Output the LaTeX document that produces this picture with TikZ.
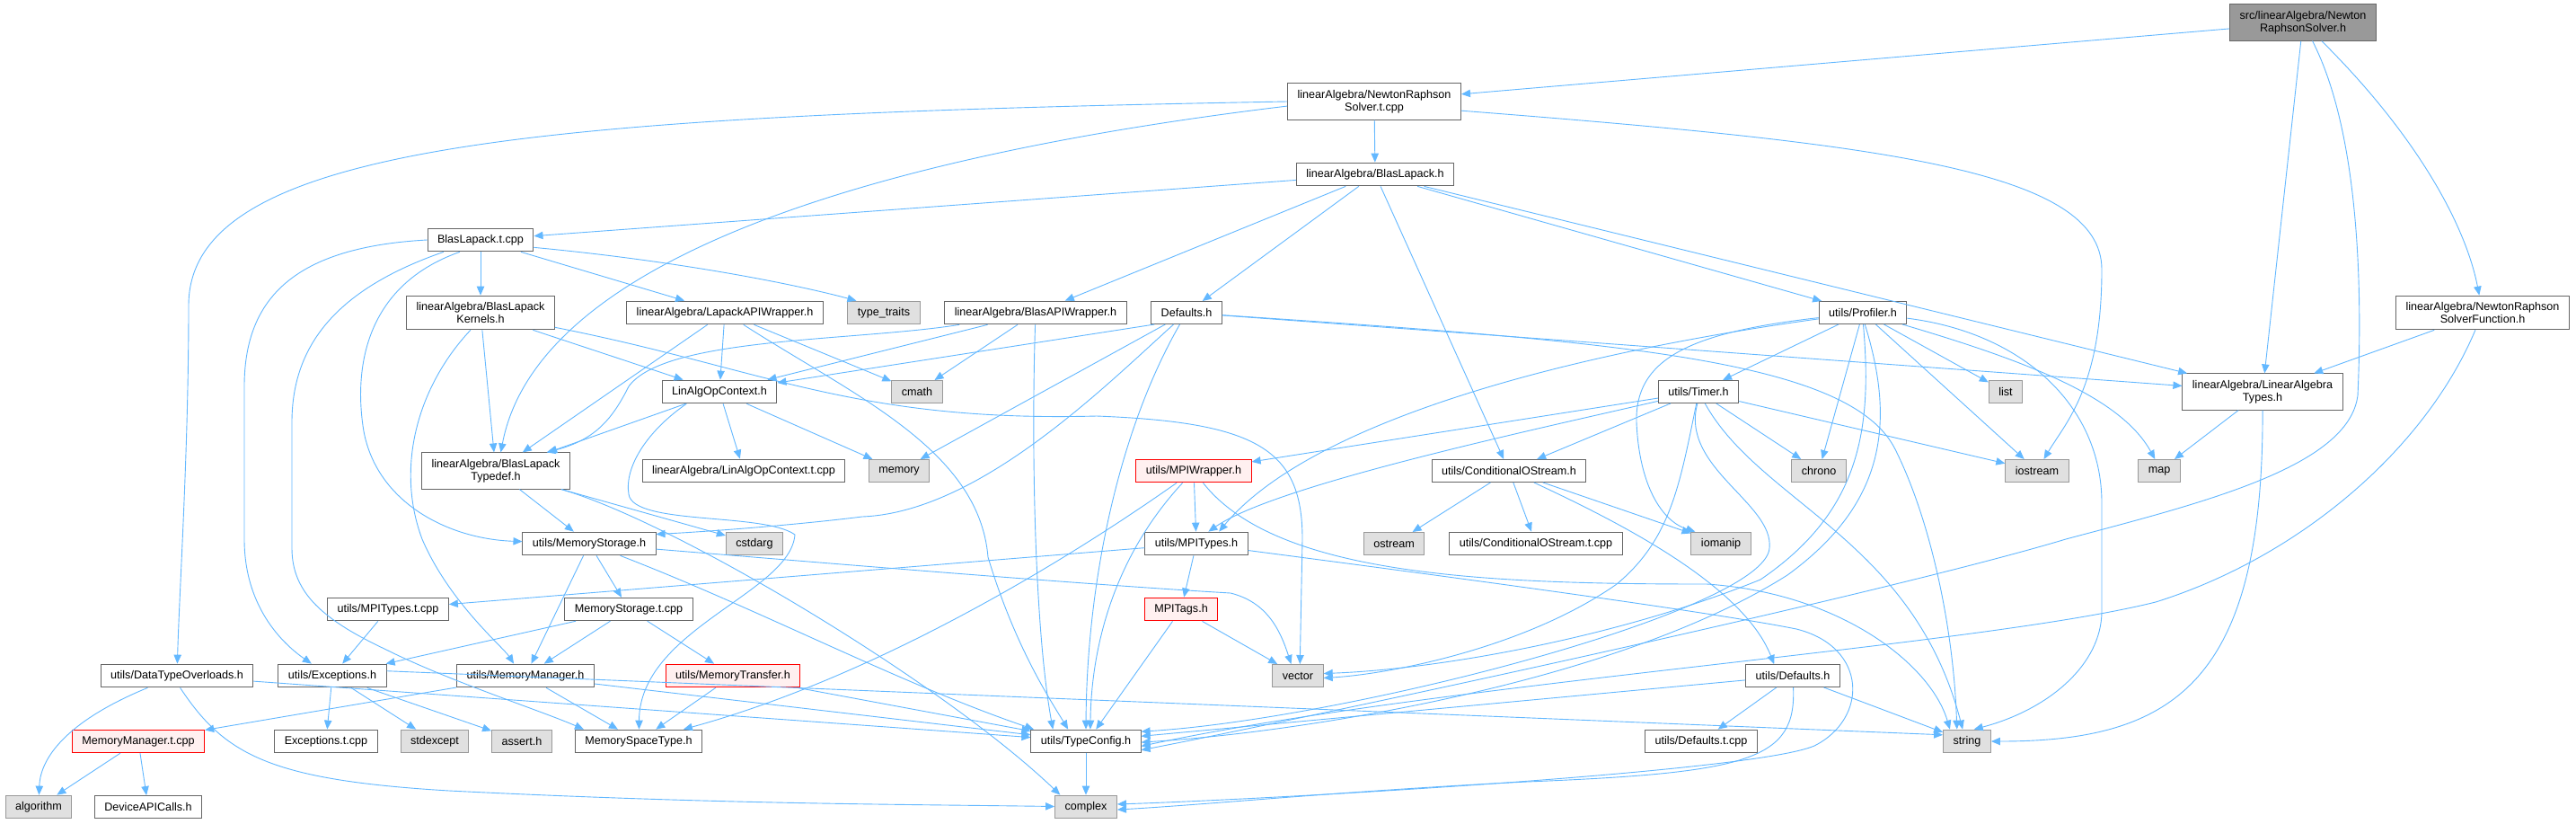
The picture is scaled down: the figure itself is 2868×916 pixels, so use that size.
\documentclass[tikz,border=0pt]{standalone}
\usepackage{fontspec}
\setmainfont{Liberation Sans}
\usepackage{tikz}
\usetikzlibrary{arrows.meta}
\definecolor{dxEdge}{HTML}{63B8FF}
\definecolor{dxBorder}{HTML}{666666}
\definecolor{dxSys}{HTML}{E0E0E0}
\definecolor{dxSysBorder}{HTML}{999999}
\definecolor{dxRed}{HTML}{FF0000}
\definecolor{dxRedFill}{HTML}{FFF0F0}
\definecolor{dxRoot}{HTML}{999999}
\tikzset{
  dxnode/.style={
    draw=dxBorder, fill=white, line width=0.5pt, inner xsep=5.5pt, inner ysep=3.5pt,
    minimum height=12.5pt, align=center, font=\fontsize{6.3}{7.2}\selectfont
  },
  dxsys/.style={dxnode, fill=dxSys, draw=dxSysBorder},
  dxred/.style={dxnode, fill=dxRedFill, draw=dxRed},
  dxroot/.style={dxnode, fill=dxRoot, draw=dxBorder},
  incl/.style={-{Triangle[length=5pt,width=4.2pt]}, draw=dxEdge, line width=0.45pt}
}

\begin{document}
\begin{tikzpicture}[x=0.5pt, y=-0.5pt]
  \path[use as bounding box, fill=white] (0,0) rectangle (2868,916);

  \node[dxroot] (root) at (2564,25) {src/linearAlgebra/Newton\\RaphsonSolver.h};
  \node[dxnode] (nrst) at (1530,113) {linearAlgebra/NewtonRaphson\\Solver.t.cpp};
  \node[dxnode] (blh) at (1531,194) {linearAlgebra/BlasLapack.h};
  \node[dxnode] (bltc) at (535,267) {BlasLapack.t.cpp};
  \node[dxnode] (kern) at (535,348) {linearAlgebra/BlasLapack\\Kernels.h};
  \node[dxnode] (lapw) at (807,348) {linearAlgebra/LapackAPIWrapper.h};
  \node[dxsys] (ttr) at (984,348) {type\_traits};
  \node[dxnode] (blaw) at (1153,348) {linearAlgebra/BlasAPIWrapper.h};
  \node[dxnode] (defs) at (1321,348) {Defaults.h};
  \node[dxnode] (prof) at (2074,348) {utils/Profiler.h};
  \node[dxnode] (nrsf) at (2764,348) {linearAlgebra/NewtonRaphson\\SolverFunction.h};
  \node[dxnode] (loc) at (801,436) {LinAlgOpContext.h};
  \node[dxsys] (cmath) at (1021,436) {cmath};
  \node[dxnode] (timer) at (1891,436) {utils/Timer.h};
  \node[dxsys] (list) at (2233,436) {list};
  \node[dxnode] (lat) at (2519,436) {linearAlgebra/LinearAlgebra\\Types.h};
  \node[dxnode] (tdef) at (552,524) {linearAlgebra/BlasLapack\\Typedef.h};
  \node[dxnode] (loct) at (828,524) {linearAlgebra/LinAlgOpContext.t.cpp};
  \node[dxsys] (memory) at (1001,524) {memory};
  \node[dxred] (mpiw) at (1329,524) {utils/MPIWrapper.h};
  \node[dxnode] (cos) at (1680,524) {utils/ConditionalOStream.h};
  \node[dxsys] (chrono) at (2025,524) {chrono};
  \node[dxsys] (iostream) at (2268,524) {iostream};
  \node[dxsys] (map) at (2404,524) {map};
  \node[dxnode] (mst) at (656,605) {utils/MemoryStorage.h};
  \node[dxsys] (cstdarg) at (840,605) {cstdarg};
  \node[dxnode] (mpit) at (1332,605) {utils/MPITypes.h};
  \node[dxsys] (ostream) at (1552,605) {ostream};
  \node[dxnode] (cost) at (1710,605) {utils/ConditionalOStream.t.cpp};
  \node[dxsys] (iomanip) at (1916,605) {iomanip};
  \node[dxnode] (mpitt) at (432,678) {utils/MPITypes.t.cpp};
  \node[dxnode] (mstt) at (700,678) {MemoryStorage.t.cpp};
  \node[dxred] (tags) at (1315,678) {MPITags.h};
  \node[dxnode] (dto) at (197,752) {utils/DataTypeOverloads.h};
  \node[dxnode] (exc) at (370,752) {utils/Exceptions.h};
  \node[dxnode] (mm) at (585,752) {utils/MemoryManager.h};
  \node[dxred] (mtr) at (816,752) {utils/MemoryTransfer.h};
  \node[dxsys] (vector) at (1445,752) {vector};
  \node[dxnode] (udef) at (1996,752) {utils/Defaults.h};
  \node[dxred] (mmt) at (154,825) {MemoryManager.t.cpp};
  \node[dxnode] (exct) at (363,825) {Exceptions.t.cpp};
  \node[dxsys] (stdexc) at (484,825) {stdexcept};
  \node[dxsys] (assert) at (581,825) {assert.h};
  \node[dxnode] (mspace) at (711,825) {MemorySpaceType.h};
  \node[dxnode] (tc) at (1209,825) {utils/TypeConfig.h};
  \node[dxnode] (udeft) at (1894,825) {utils/Defaults.t.cpp};
  \node[dxsys] (string) at (2190,825) {string};
  \node[dxsys] (algo) at (43,898) {algorithm};
  \node[dxnode] (dapi) at (165,898) {DeviceAPICalls.h};
  \node[dxsys] (complex) at (1209,898) {complex};

  \draw[incl] (root) -- (nrst);
  \draw[incl] (root) -- (lat);
  \draw[incl] (root) .. controls (2690,150) and (2745,250) .. (nrsf);
  \draw[incl] (root) .. controls (2628,150) and (2630,330) .. (2625,440) .. controls (2615,520) and (2450,560) .. (2300,600) .. controls (2100,660) and (1500,790) .. (tc.-9);
  \draw[incl] (nrsf) -- (lat);
  \draw[incl] (nrsf) .. controls (2700,500) and (2560,620) .. (2400,670) .. controls (2200,720) and (1600,760) .. (tc.-5);
  \draw[incl] (lat) -- (map);
  \draw[incl] (lat) .. controls (2520,760) and (2420,825) .. (string);

  \draw[incl] (nrst) -- (blh);
  \draw[incl] (nrst.west) .. controls (600,128) and (210,160) .. (210,340) .. controls (210,500) and (200,650) .. (dto);
  \draw[incl] (nrst.183) .. controls (1000,170) and (600,280) .. (tdef.75);
  \draw[incl] (nrst.-6) .. controls (2100,160) and (2340,190) .. (2340,300) .. controls (2340,430) and (2300,470) .. (iostream.60);

  \draw[incl] (blh) -- (bltc);
  \draw[incl] (blh) -- (blaw);
  \draw[incl] (blh) -- (defs);
  \draw[incl] (blh) -- (cos);
  \draw[incl] (blh) -- (prof);
  \draw[incl] (blh) -- (lat);

  \draw[incl] (bltc) -- (kern);
  \draw[incl] (bltc) -- (lapw);
  \draw[incl] (bltc.-8) .. controls (750,290) and (880,315) .. ([xshift=5pt]ttr.north west);
  \draw[incl] (bltc.west) .. controls (330,275) and (272,330) .. (272,430) -- (272,600) .. controls (272,680) and (320,720) .. (exc.150);
  \draw[incl] (bltc.-162) .. controls (380,320) and (325,380) .. (325,470) -- (325,610) .. controls (325,660) and (360,690) .. (430,723) .. controls (500,758) and (600,790) .. ([xshift=5pt]mspace.north west);
  \draw[incl] (bltc.-150) .. controls (400,320) and (395,420) .. (405,480) .. controls (420,560) and (500,600) .. (mst);

  \draw[incl] (kern) -- (tdef);
  \draw[incl] (kern) -- (loc);
  \draw[incl] (kern.-120) .. controls (465,430) and (440,520) .. (470,600) .. controls (500,670) and (560,720) .. (mm.134);
  \draw[incl] (kern) .. controls (850,410) and (950,470) .. (1221,463) .. controls (1400,470) and (1450,500) .. (1450,600) -- (vector.80);

  \draw[incl] (lapw) -- (loc);
  \draw[incl] (lapw) -- (tdef);
  \draw[incl] (lapw) -- (cmath);
  \draw[incl] (lapw) .. controls (950,440) and (1090,500) .. (1100,620) .. controls (1130,720) and (1170,780) .. (tc.146);

  \draw[incl] (blaw) -- (loc);
  \draw[incl] (blaw) .. controls (950,380) and (740,375) .. (700,430) .. controls (680,470) and (660,490) .. (tdef.20);
  \draw[incl] (blaw) -- (cmath);
  \draw[incl] (blaw) .. controls (1148,500) and (1152,700) .. (tc.160);

  \draw[incl] (defs.-160) -- (loc);
  \draw[incl] (defs) -- (memory);
  \draw[incl] (defs) .. controls (1230,430) and (1090,570) .. (960,575) .. controls (880,585) and (780,592) .. (mst.8);
  \draw[incl] (defs) .. controls (1245,480) and (1210,650) .. (tc.90);
  \draw[incl] (defs) -- (lat);
  \draw[incl] (defs) .. controls (1800,380) and (2060,400) .. (2110,500) .. controls (2150,580) and (2175,700) .. (string.130);

  \draw[incl] (prof) -- (timer);
  \draw[incl] (prof) -- (chrono);
  \draw[incl] (prof) -- (list);
  \draw[incl] (prof) -- (iostream);
  \draw[incl] (prof) .. controls (2250,400) and (2360,440) .. (map.110);
  \draw[incl] (prof) .. controls (2250,370) and (2340,450) .. (2340,560) -- (2340,680) .. controls (2340,740) and (2280,790) .. (string.60);
  \draw[incl] (prof.-80) .. controls (2110,470) and (2100,560) .. (1990,640) .. controls (1800,760) and (1450,815) .. (tc.-1);
  \draw[incl] (prof.-88) .. controls (2085,480) and (2070,570) .. (1960,645) .. controls (1800,710) and (1600,745) .. (vector.5);
  \draw[incl] (prof) .. controls (1880,370) and (1820,400) .. (1822,470) .. controls (1825,540) and (1850,580) .. (iomanip.155);
  \draw[incl] (prof) .. controls (1700,400) and (1450,480) .. (mpit.28);

  \draw[incl] (timer) -- (chrono);
  \draw[incl] (timer) -- (iostream);
  \draw[incl] (timer) -- (cos);
  \draw[incl] (timer) -- (mpiw);
  \draw[incl] (timer) .. controls (1700,480) and (1420,540) .. (mpit.45);
  \draw[incl] (timer) .. controls (1960,560) and (2130,600) .. (string.110);
  \draw[incl] (timer.-95) .. controls (1870,520) and (1975,560) .. (1970,610) .. controls (1965,680) and (1500,800) .. (tc.10);
  \draw[incl] (timer.-100) .. controls (1870,540) and (1860,600) .. (1800,650) .. controls (1700,720) and (1550,750) .. (vector.-5);

  \draw[incl] (cos) -- (ostream);
  \draw[incl] (cos) -- (cost);
  \draw[incl] (cos) -- (iomanip);
  \draw[incl] (cos) .. controls (1800,580) and (1940,650) .. (udef.148);

  \draw[incl] (mpiw) -- (mpit);
  \draw[incl] (mpiw) .. controls (1240,620) and (1215,720) .. (tc.70);
  \draw[incl] (mpiw) .. controls (1150,650) and (950,760) .. (mspace.15);
  \draw[incl] (mpiw) .. controls (1420,640) and (1650,650) .. (1900,650) .. controls (2050,660) and (2150,740) .. (string.145);

  \draw[incl] (mpit) -- (tags);
  \draw[incl] (mpit) -- (mpitt);
  \draw[incl] (mpit) .. controls (1600,640) and (1900,680) .. (2000,700) .. controls (2080,720) and (2080,800) .. (2020,830) .. controls (1950,860) and (1400,890) .. (complex.5);
  \draw[incl] (tags) -- (vector);
  \draw[incl] (tags) -- (tc.50);

  \draw[incl] (tdef) -- (mst);
  \draw[incl] (tdef) -- (cstdarg);
  \draw[incl] (tdef) .. controls (750,580) and (1050,760) .. (complex.155);

  \draw[incl] (loc) -- (loct);
  \draw[incl] (loc) -- (memory);
  \draw[incl] (loc) -- (tdef);
  \draw[incl] (loc.-160) .. controls (720,480) and (695,520) .. (700,550) .. controls (705,585) and (850,570) .. (885,595) .. controls (880,660) and (712,700) .. (mspace.88);

  \draw[incl] (mst) -- (mstt);
  \draw[incl] (mst) -- (mm);
  \draw[incl] (mst) .. controls (900,625) and (1200,650) .. (1370,660) .. controls (1410,670) and (1425,700) .. (vector.120);
  \draw[incl] (mst) .. controls (850,680) and (1000,760) .. (tc.167);

  \draw[incl] (mstt) -- (exc);
  \draw[incl] (mstt) -- (mm);
  \draw[incl] (mstt) -- (mtr);
  \draw[incl] (mpitt) -- (exc);

  \draw[incl] (dto) .. controls (80,800) and (45,840) .. (algo);
  \draw[incl] (dto.-75) .. controls (250,840) and (300,868) .. (500,880) .. controls (800,895) and (1000,895) .. (complex);
  \draw[incl] (dto) -- (tc);
  \draw[incl] (exc) -- (exct);
  \draw[incl] (exc) -- (stdexc);
  \draw[incl] (exc) -- (assert);
  \draw[incl] (exc.5) -- (string.165);
  \draw[incl] (mm) -- (mmt);
  \draw[incl] (mm) -- (mspace);
  \draw[incl] (mm) -- (tc);
  \draw[incl] (mtr) -- (mspace);
  \draw[incl] (mtr) -- (tc);
  \draw[incl] (mmt) -- (algo);
  \draw[incl] (mmt) -- (dapi);

  \draw[incl] (udef) -- (udeft);
  \draw[incl] (udef) -- (string);
  \draw[incl] (udef) .. controls (2000,845) and (1950,860) .. (1700,870) .. controls (1500,880) and (1350,895) .. (complex.-5);
  \draw[incl] (udef) -- (tc);
  \draw[incl] (tc) -- (complex);
\end{tikzpicture}
\end{document}
